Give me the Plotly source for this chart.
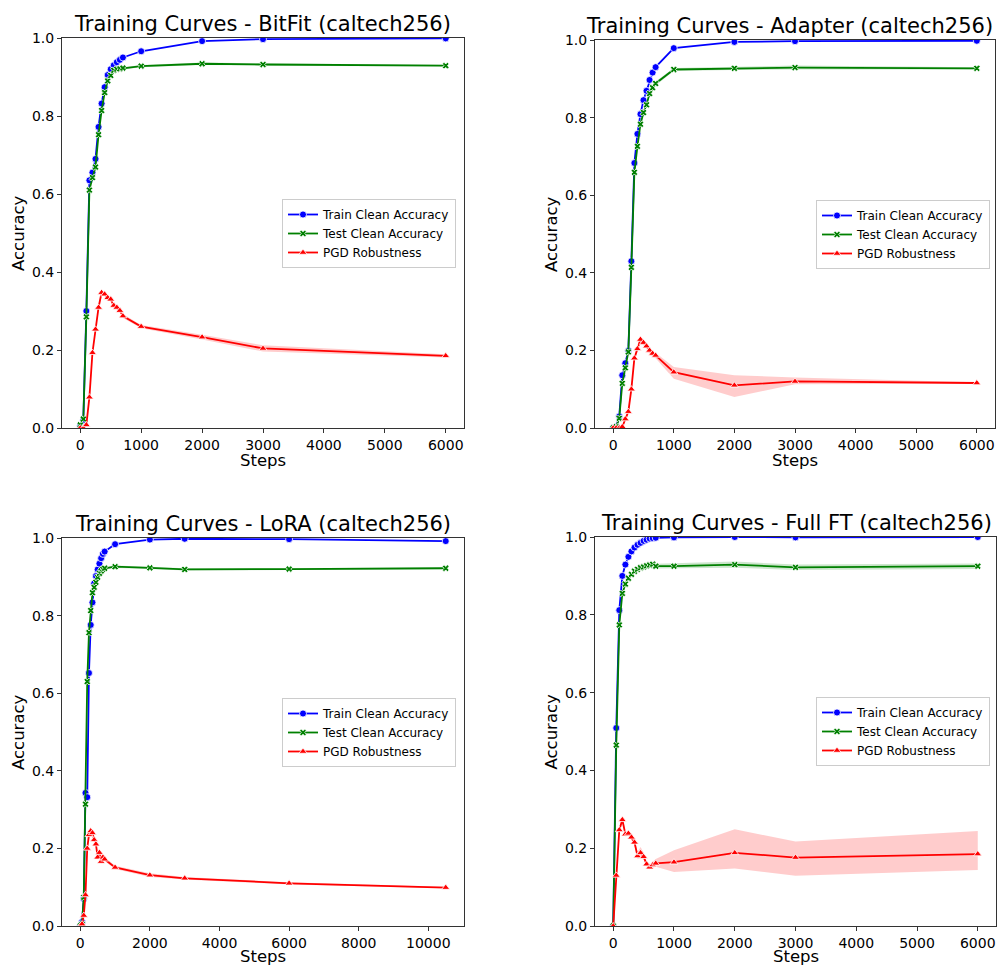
import plotly.graph_objects as go

# ---------------- data ----------------
steps = [0, 50, 100, 150, 200, 250, 300, 350, 400, 450, 500, 550, 600, 650, 700,
         1000, 2000, 3000, 6000]
lora_steps = [0, 50, 100, 150, 200, 250, 300, 350, 400, 450, 500, 550, 600, 650, 700,
              1000, 2000, 3000, 6000, 10500]

series_names = ["Train Clean Accuracy", "Test Clean Accuracy", "PGD Robustness"]
titles = ["Training Curves - BitFit (caltech256)", "Training Curves - Adapter (caltech256)",
          "Training Curves - LoRA (caltech256)", "Training Curves - Full FT (caltech256)"]

# BitFit
bitfit_train = [0.005, 0.02, 0.30, 0.635, 0.655, 0.69, 0.772, 0.832, 0.874, 0.905, 0.92, 0.93,
                0.938, 0.944, 0.95, 0.966, 0.992, 0.997, 0.999]
bitfit_test = [0.008, 0.023, 0.285, 0.61, 0.642, 0.669, 0.752, 0.814, 0.86, 0.89, 0.904, 0.917,
               0.92, 0.921, 0.923, 0.928, 0.934, 0.932, 0.929]
bitfit_pgd = [0.0, 0.0, 0.008, 0.079, 0.193, 0.253, 0.309, 0.347, 0.343, 0.334, 0.33, 0.314,
              0.309, 0.301, 0.287, 0.26, 0.233, 0.204, 0.185]
bitfit_pgd_lo = [0.0, 0.0, 0.006, 0.075, 0.188, 0.248, 0.304, 0.341, 0.338, 0.329, 0.325, 0.309,
                 0.304, 0.296, 0.282, 0.256, 0.227, 0.196, 0.181]
bitfit_pgd_hi = [0.0, 0.0, 0.01, 0.083, 0.198, 0.258, 0.314, 0.353, 0.348, 0.339, 0.335, 0.319,
                 0.314, 0.306, 0.292, 0.264, 0.239, 0.212, 0.189]
bitfit_test_err = [0.0, 0.002, 0.004, 0.004, 0.004, 0.004, 0.004, 0.004, 0.003, 0.003, 0.003, 0.003,
                   0.003, 0.003, 0.003, 0.003, 0.003, 0.003, 0.002]

# Adapter
adapter_train = [0.0, 0.003, 0.03, 0.136, 0.167, 0.2, 0.43, 0.683, 0.758, 0.809, 0.845, 0.869,
                 0.897, 0.916, 0.93, 0.979, 0.995, 0.997, 0.998]
adapter_test = [0.0, 0.003, 0.025, 0.115, 0.155, 0.196, 0.414, 0.659, 0.726, 0.783, 0.813, 0.833,
                0.862, 0.877, 0.888, 0.924, 0.927, 0.929, 0.927]
adapter_pgd = [0.0, 0.0, 0.0, 0.003, 0.023, 0.042, 0.1, 0.18, 0.204, 0.228, 0.22, 0.211,
               0.2, 0.192, 0.187, 0.144, 0.11, 0.12, 0.116]
adapter_pgd_lo = [0.0, 0.0, 0.0, 0.002, 0.02, 0.038, 0.094, 0.174, 0.198, 0.222, 0.212, 0.203,
                  0.192, 0.184, 0.18, 0.127, 0.08, 0.113, 0.114]
adapter_pgd_hi = [0.0, 0.0, 0.0, 0.004, 0.026, 0.046, 0.106, 0.186, 0.21, 0.234, 0.228, 0.219,
                  0.208, 0.2, 0.194, 0.157, 0.136, 0.13, 0.118]
adapter_test_err = [0.0, 0.001, 0.003, 0.005, 0.005, 0.005, 0.006, 0.006, 0.005, 0.005, 0.005, 0.005,
                    0.005, 0.005, 0.005, 0.004, 0.004, 0.005, 0.003]

# LoRA
lora_train = [0.0, 0.01, 0.07, 0.343, 0.332, 0.652, 0.776, 0.834, 0.883, 0.902, 0.919, 0.934,
              0.948, 0.959, 0.965, 0.984, 0.996, 0.998, 0.997, 0.992]
lora_test = [0.0, 0.005, 0.074, 0.314, 0.63, 0.756, 0.813, 0.859, 0.873, 0.886, 0.899, 0.909,
             0.915, 0.92, 0.922, 0.926, 0.923, 0.919, 0.92, 0.922]
lora_pgd = [0.0, 0.005, 0.027, 0.08, 0.2, 0.235, 0.245, 0.24, 0.222, 0.211, 0.177, 0.189,
            0.166, 0.177, 0.172, 0.151, 0.131, 0.123, 0.11, 0.099]
lora_pgd_lo = [0.0, 0.004, 0.024, 0.075, 0.194, 0.229, 0.239, 0.234, 0.216, 0.205, 0.171, 0.183,
               0.16, 0.171, 0.166, 0.147, 0.126, 0.12, 0.107, 0.097]
lora_pgd_hi = [0.0, 0.006, 0.03, 0.085, 0.206, 0.241, 0.251, 0.246, 0.228, 0.217, 0.183, 0.195,
               0.172, 0.183, 0.178, 0.155, 0.136, 0.126, 0.113, 0.101]
lora_test_err = [0.0, 0.002, 0.005, 0.006, 0.006, 0.005, 0.005, 0.004, 0.004, 0.004, 0.003, 0.003,
                 0.003, 0.003, 0.003, 0.003, 0.003, 0.003, 0.002, 0.002]

# Full FT
fullft_train = [0.0, 0.509, 0.812, 0.9, 0.929, 0.949, 0.963, 0.973, 0.98, 0.985, 0.99, 0.993,
                0.996, 0.997, 0.998, 0.999, 1.0, 0.999, 1.0]
fullft_test = [0.0, 0.465, 0.774, 0.855, 0.879, 0.894, 0.904, 0.912, 0.917, 0.921, 0.923, 0.926,
               0.928, 0.93, 0.925, 0.925, 0.929, 0.922, 0.925]
fullft_pgd = [0.0, 0.13, 0.247, 0.273, 0.236, 0.238, 0.228, 0.215, 0.18, 0.188, 0.178, 0.159,
              0.151, 0.157, 0.161, 0.164, 0.188, 0.176, 0.185]
fullft_pgd_lo = [0.0, 0.125, 0.24, 0.265, 0.23, 0.232, 0.222, 0.207, 0.172, 0.175, 0.17, 0.153,
                 0.146, 0.15, 0.152, 0.139, 0.148, 0.129, 0.144]
fullft_pgd_hi = [0.0, 0.135, 0.254, 0.281, 0.243, 0.245, 0.236, 0.224, 0.19, 0.203, 0.188, 0.166,
                 0.158, 0.165, 0.172, 0.195, 0.249, 0.217, 0.244]
fullft_test_err = [0.0, 0.006, 0.005, 0.005, 0.005, 0.004, 0.004, 0.004, 0.004, 0.004, 0.004, 0.004,
                   0.004, 0.004, 0.006, 0.007, 0.008, 0.007, 0.007]

x_tick_vals = [0, 1000, 2000, 3000, 4000, 5000, 6000]
x_tick_text = ["0", "1000", "2000", "3000", "4000", "5000", "6000"]
lora_x_tick_vals = [0, 2000, 4000, 6000, 8000, 10000]
lora_x_tick_text = ["0", "2000", "4000", "6000", "8000", "10000"]
y_tick_vals = [0.0, 0.2, 0.4, 0.6, 0.8, 1.0]

# ---------------- layout helpers ----------------
W, H = 998, 967
FONT = "DejaVu Sans"
COLORS = ["#0000ff", "#008000", "#ff0000"]
FILLS = ["rgba(0,0,255,0.2)", "rgba(0,128,0,0.2)", "rgba(255,0,0,0.2)"]
SYMBOLS = ["circle", "x", "triangle-up"]
MSIZE = [7, 6, 7]


def fx(p):
    return p / W


def fy(p):
    return 1 - p / H


# plot boxes in pixels: left, top, right, bottom
boxes = [(62, 38, 464, 428), (595, 40, 995, 428), (62, 538, 464, 926), (595, 537, 996, 926)]
legend_pos = [(456, 199), (990, 200), (456, 698), (990, 697)]
title_cx = [262, 789, 263, 796]
steps_label_off = [33, 33, 30, 30]

panels = [
    dict(x=steps, train=bitfit_train, test=bitfit_test, test_err=bitfit_test_err,
         pgd=bitfit_pgd, lo=bitfit_pgd_lo, hi=bitfit_pgd_hi, ticks=x_tick_vals,
         ticktext=x_tick_text, xmax=6000),
    dict(x=steps, train=adapter_train, test=adapter_test, test_err=adapter_test_err,
         pgd=adapter_pgd, lo=adapter_pgd_lo, hi=adapter_pgd_hi, ticks=x_tick_vals,
         ticktext=x_tick_text, xmax=6000),
    dict(x=lora_steps, train=lora_train, test=lora_test, test_err=lora_test_err,
         pgd=lora_pgd, lo=lora_pgd_lo, hi=lora_pgd_hi, ticks=lora_x_tick_vals,
         ticktext=lora_x_tick_text, xmax=10500),
    dict(x=steps, train=fullft_train, test=fullft_test, test_err=fullft_test_err,
         pgd=fullft_pgd, lo=fullft_pgd_lo, hi=fullft_pgd_hi, ticks=x_tick_vals,
         ticktext=x_tick_text, xmax=6000),
]

fig = go.Figure()
annotations = []
layout_axes = {}

for i, p in enumerate(panels):
    n = i + 1
    xa = "x" if n == 1 else f"x{n}"
    ya = "y" if n == 1 else f"y{n}"
    leg = "legend" if n == 1 else f"legend{n}"
    xs = p["x"]
    test_lo = [v - e for v, e in zip(p["test"], p["test_err"])]
    test_hi = [v + e for v, e in zip(p["test"], p["test_err"])]
    bands = [None, (test_lo, test_hi), (p["lo"], p["hi"])]
    ys = [p["train"], p["test"], p["pgd"]]
    for k in range(3):
        if bands[k] is not None:
            lo, hi = bands[k]
            fig.add_trace(go.Scatter(
                x=list(xs) + list(xs)[::-1], y=list(hi) + list(lo)[::-1],
                fill="toself", fillcolor=FILLS[k], line=dict(width=0),
                mode="lines", showlegend=False, hoverinfo="skip", xaxis=xa, yaxis=ya))
        fig.add_trace(go.Scatter(
            x=xs, y=ys[k], name=series_names[k], mode="lines+markers",
            line=dict(color=COLORS[k], width=1.8),
            marker=dict(symbol=SYMBOLS[k], size=MSIZE[k], color=COLORS[k],
                        line=dict(color="white", width=0.8)),
            xaxis=xa, yaxis=ya, legend=leg, showlegend=True))

    l, t, r, b = boxes[i]
    pad = 0.05 * p["xmax"]
    axkey = "xaxis" if n == 1 else f"xaxis{n}"
    aykey = "yaxis" if n == 1 else f"yaxis{n}"
    layout_axes[axkey] = dict(
        domain=[fx(l), fx(r)], anchor=ya, range=[-pad, p["xmax"] + pad],
        tickmode="array", tickvals=p["ticks"], ticktext=p["ticktext"], ticks="outside", ticklen=4,
        tickcolor="#333", showline=True, linecolor="#333", linewidth=1, mirror=True,
        showgrid=False, zeroline=False, tickfont=dict(family=FONT, size=14, color="black"),
        automargin=False)
    layout_axes[aykey] = dict(
        domain=[fy(b), fy(t)], anchor=xa, range=[0, 1],
        tickmode="array", tickvals=y_tick_vals, tickformat=".1f", ticks="outside", ticklen=4,
        tickcolor="#333", showline=True, linecolor="#333", linewidth=1, mirror=True,
        showgrid=False, zeroline=False, tickfont=dict(family=FONT, size=14, color="black"),
        automargin=False)
    lx, ly = legend_pos[i]
    layout_axes[leg] = dict(
        x=fx(lx), y=fy(ly), xanchor="right", yanchor="top",
        bgcolor="rgba(255,255,255,0.8)", bordercolor="#cccccc", borderwidth=1,
        font=dict(family=FONT, size=12, color="black"), itemwidth=30,
        tracegroupgap=0)

    # titles and axis labels
    annotations.append(dict(text=titles[i], x=fx(title_cx[i]), y=fy(t - 14), xref="paper",
                            yref="paper", xanchor="center", yanchor="middle", showarrow=False,
                            font=dict(family=FONT, size=21, color="black")))
    annotations.append(dict(text="Steps", x=fx((l + r) / 2), y=fy(b + steps_label_off[i]),
                            xref="paper", yref="paper", xanchor="center", yanchor="middle",
                            showarrow=False, font=dict(family=FONT, size=16.5, color="black")))
    annotations.append(dict(text="Accuracy", x=fx(l - 44), y=fy((t + b) / 2), xref="paper",
                            yref="paper", xanchor="center", yanchor="middle", showarrow=False,
                            textangle=-90, font=dict(family=FONT, size=16.5, color="black")))

fig.update_layout(
    width=W, height=H, margin=dict(l=0, r=0, t=0, b=0),
    paper_bgcolor="white", plot_bgcolor="white",
    font=dict(family=FONT, color="black"),
    annotations=annotations, **layout_axes)

fig.write_html("out.html")
